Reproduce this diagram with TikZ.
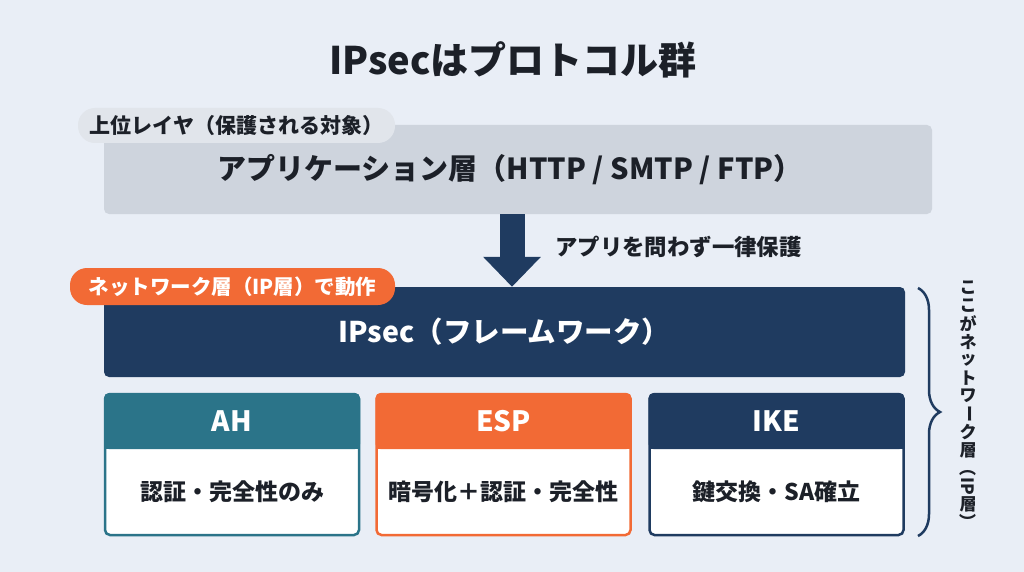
\documentclass[tikz,border=0pt]{standalone}
\usepackage{fontspec}
\setmainfont{Noto Sans CJK JP}
\usetikzlibrary{arrows.meta,decorations.pathreplacing}
\definecolor{bg}{HTML}{E9EEF6}
\definecolor{navy}{HTML}{1F3B60}
\definecolor{orng}{HTML}{F26A35}
\definecolor{teal}{HTML}{2B7489}
\definecolor{graybox}{HTML}{CED4DD}
\definecolor{graypill}{HTML}{E1E5EB}
\definecolor{ink}{HTML}{1C2028}
\tikzset{
  box/.style={inner sep=0pt, rounded corners=5pt},
  pill/.style={inner sep=0pt, rounded corners=17pt},
  head/.style={inner sep=0pt, rounded corners=5pt, text=white, font=\fontsize{28}{32}\selectfont\bfseries},
  body/.style={inner sep=0pt, font=\fontsize{23}{26}\selectfont\bfseries, text=ink},
  vtext/.style={inner sep=0pt, font=\fontsize{17}{18}\selectfont\bfseries, text=ink},
}
\begin{document}
\begin{tikzpicture}[x=1pt,y=-1pt]
\fill[bg] (0,0) rectangle (1024,572);
\useasboundingbox (0,0) rectangle (1024,572);

% title
\node[inner sep=0pt, font=\fontsize{38}{44}\selectfont\bfseries, text=ink] (title) at (513,60) {IPsecはプロトコル群};

% application layer
\node[box, fill=graybox, minimum width=828pt, minimum height=89pt, inner sep=0pt, text=ink] (app) at (518,169.5) {};
\node[inner sep=0pt, font=\fontsize{29}{33}\selectfont\bfseries, text=ink] (apptxt) at (510,170) {アプリケーション層（HTTP / SMTP / FTP）};
\node[pill, fill=graypill, minimum width=317pt, minimum height=35pt, font=\fontsize{21}{24}\selectfont\bfseries, text=ink] (uptag) at (236.5,125.5) {上位レイヤ（保護される対象）};

% IPsec
\node[box, fill=navy, minimum width=801pt, minimum height=90pt, font=\fontsize{28.5}{32}\selectfont\bfseries, text=white] (ipsec) at (504.5,332) {IPsec（フレームワーク）};
\node[pill, fill=orng, minimum width=325pt, minimum height=37pt, font=\fontsize{20.5}{24}\selectfont\bfseries, text=white] (nettag) at (232.5,286.5) {ネットワーク層（IP層）で動作};

% arrow
\coordinate (ax) at (512,0);
\draw[navy, line width=25pt, -{Triangle[width=56pt,length=30pt]}] (app.south -| ax) -- (ipsec.north -| ax);
\node[anchor=west, inner sep=0pt, font=\fontsize{22.4}{26}\selectfont\bfseries, text=ink] (arrlbl) at (555,247) {アプリを問わず一律保護};

% three boxes
\foreach \nm/\cx/\col/\hd/\bd in {ah/232/teal/AH/認証・完全性のみ, esp/503.5/orng/ESP/暗号化＋認証・完全性, ike/776.5/navy/IKE/鍵交換・SA確立}{
  \node[box, draw=\col, line width=2.5pt, fill=white, minimum width=254pt, minimum height=141pt] (\nm) at (\cx,464.5) {};
  \node[head, fill=\col, minimum width=256pt, minimum height=56pt] (\nm h) at (\cx,421) {};
  \fill[\col] (\cx-128,435) rectangle (\cx+128,449);
  \node[head] (\nm t) at (\nm h) {\hd};
  \node[body] (\nm b) at (\cx,492) {\bd};
}

% brace
\draw[navy, line width=2.5pt, decorate, decoration={brace, amplitude=22pt}] (918,288) -- (918,536);

% vertical text
\foreach \c [count=\i] in {こ,こ,が,ネ,ッ,ト,ワ,{\rotatebox{-90}{ー}},ク,層,{\rotatebox{-90}{（}},{\rotatebox{-90}{IP}},層,{\rotatebox{-90}{）}}}
  \node[vtext] (v\i) at (968,270+18*\i) {\c};
\end{tikzpicture}
\end{document}
